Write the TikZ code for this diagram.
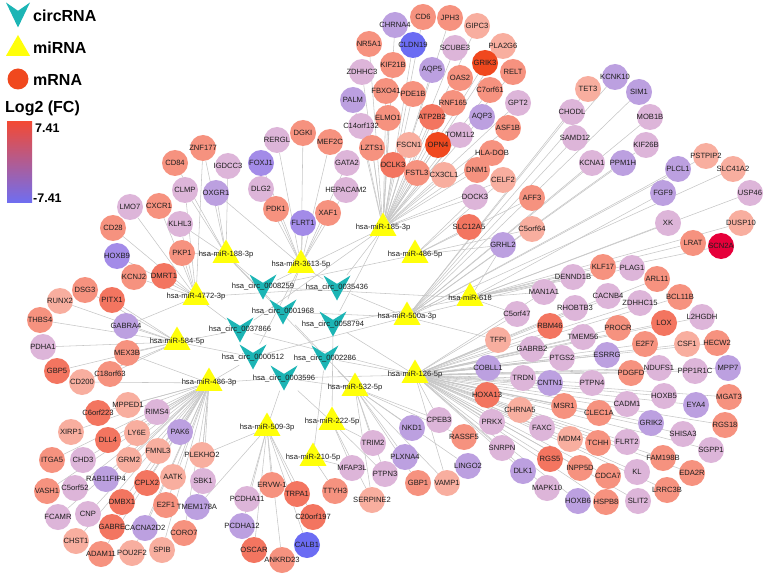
\documentclass[tikz,border=0pt]{standalone}
\usepackage{fontspec}
\setmainfont{Liberation Sans}
\usetikzlibrary{shapes.geometric,calc,backgrounds}
\definecolor{miryellow}{HTML}{FFFF0A}
\definecolor{circteal}{HTML}{1CB5B5}
\definecolor{edgegray}{HTML}{C6C6C6}
\definecolor{txtdark}{HTML}{1E1E1E}
\definecolor{top}{HTML}{E6003A}
\definecolor{hi}{HTML}{F0481E}
\definecolor{up2}{HTML}{F37560}
\definecolor{up1}{HTML}{F6927F}
\definecolor{up0}{HTML}{F8AE9F}
\definecolor{dn0}{HTML}{DDB5D9}
\definecolor{dn1}{HTML}{BCA0E0}
\definecolor{dn2}{HTML}{A38BE8}
\definecolor{dn3}{HTML}{6B6CF3}
\definecolor{gradtop}{HTML}{F24A35}
\definecolor{gradmid}{HTML}{E8C8DA}
\definecolor{gradbot}{HTML}{6E6EF2}
\newcommand{\genefont}{\fontsize{7.6}{9}\selectfont}
\tikzset{
  gene/.style={circle, minimum size=26pt, inner sep=0pt, font=\genefont, text=txtdark},
  mirna/.style={regular polygon, regular polygon sides=3, minimum size=31pt, inner sep=0pt, fill=miryellow, font=\genefont, text=txtdark},
  circ/.style={minimum width=27pt, minimum height=25pt, inner sep=0pt, font=\genefont, text=txtdark,
    path picture={\fill[circteal] (path picture bounding box.north west)
      -- ($(path picture bounding box.north)!0.333!(path picture bounding box.south)$)
      -- (path picture bounding box.north east) -- (path picture bounding box.south) -- cycle;}},
  edge/.style={draw=edgegray, line width=0.55pt},
  legtext/.style={font=\bfseries\fontsize{16}{18}\selectfont, anchor=west, inner sep=0pt},
  numtext/.style={font=\bfseries\fontsize{12.5}{14}\selectfont, anchor=west, inner sep=0pt}
}

\begin{document}
\begin{tikzpicture}[x=1pt,y=-1pt]
  \useasboundingbox (0,0) rectangle (770,577);

  % legend
  \node[circ, minimum width=24pt, minimum height=25pt] (lgcirc) at (18,15) {};
  \node[legtext] (lgcirctxt) at (33,16) {circRNA};
  \node[mirna, minimum size=28pt] (lgmir) at (18,49) {};
  \node[legtext] (lgmirtxt) at (33,48) {miRNA};
  \node[gene, fill=hi, minimum size=21pt] (lgmrna) at (18,79) {};
  \node[legtext] (lgmrnatxt) at (33,80) {mRNA};
  \node[legtext] (lgfc) at (5,108) {Log2 (FC)};
  \node[minimum width=25pt, minimum height=81pt, inner sep=0pt, top color=gradtop, middle color=gradmid, bottom color=gradbot] (lgbar) at (19.5,162.5) {};
  \node[numtext] (lgmax) at (35,128) {7.41};
  \node[numtext] (lgmin) at (33,198) {-7.41};

  % miRNAs
  \node[mirna] (m188) at (226,255) {\makebox[0pt]{hsa-miR-188-3p}};
  \node[mirna] (m3613) at (301,265) {\makebox[0pt]{hsa-miR-3613-5p}};
  \node[mirna] (m185) at (383,228) {\makebox[0pt]{hsa-miR-185-3p}};
  \node[mirna] (m4866) at (415,255) {\makebox[0pt]{hsa-miR-486-5p}};
  \node[mirna] (m618) at (470,298) {\makebox[0pt]{hsa-miR-618}};
  \node[mirna] (m500) at (407,317) {\makebox[0pt]{hsa-miR-500a-3p}};
  \node[mirna] (m126) at (415,375) {\makebox[0pt]{hsa-miR-126-5p}};
  \node[mirna] (m4772) at (196,297) {\makebox[0pt]{hsa-miR-4772-3p}};
  \node[mirna] (m584) at (177,342) {\makebox[0pt]{hsa-miR-584-5p}};
  \node[mirna] (m4863) at (209,383) {\makebox[0pt]{hsa-miR-486-3p}};
  \node[mirna] (m532) at (355,388) {\makebox[0pt]{hsa-miR-532-5p}};
  \node[mirna] (m222) at (332,422) {\makebox[0pt]{hsa-miR-222-5p}};
  \node[mirna] (m509) at (267,428) {\makebox[0pt]{hsa-miR-509-3p}};
  \node[mirna] (m210) at (313,458) {\makebox[0pt]{hsa-miR-210-5p}};

  % circRNAs
  \foreach \n/\x/\y in {0008259/263/287, 0035436/337/288, 0001968/283/312, 0058794/333/324,
                        0037866/240/330, 0000512/253/357, 0002286/325/358, 0003596/284/378} {
    \node[circ] (c\n) at (\x,\y) {\makebox[0pt]{hsa\_circ\_\n}};
  }

  % mRNAs, one loop per miRNA
  \foreach \n/\x/\y/\c in {CHRNA4/395/25/dn1, CD6/423/17/up1, JPH3/450/18/up1, GIPC3/477/26/up0,
    CLDN19/413/45/dn3, SCUBE3/455/48/dn0, PLA2G6/503/46/up0, GRIK3/485/63/hi, KIF21B/393/65/up1,
    AQP5/432/70/dn1, RELT/513/72/up1, OAS2/460/78/up1, NR5A1/369/44/up1, ZDHHC3/362/72/dn0,
    FBXO41/386/91/up1, PDE1B/413/94/up1, C7orf61/490/90/up1, RNF165/453/103/up1, GPT2/518/103/dn0,
    PALM/353/100/dn1, ELMO1/388/118/up1, ATP2B2/432/117/up2, AQP3/482/117/dn1, ASF1B/508/128/up1,
    C14orf132/361/126/dn0, TOM1L2/460/135/dn0, LZTS1/372/148/up1, FSCN1/409/145/up0, OPN4/438/145/hi,
    HLA-DOB/492/153/up1, DCLK3/393/165/up2, FSTL3/417/173/up1, CX3CL1/444/175/up0, DNM1/477/170/up1,
    CELF2/503/180/up0, DOCK3/475/197/dn0} {
    \node[gene, fill=\c] (\n) at (\x,\y) {\makebox[0pt]{\n}};
    \begin{scope}[on background layer]\draw[edge] (m185) -- (\n);\end{scope}
  }
  \foreach \n/\x/\y/\c in {RERGL/277/140/dn0, DGKI/303/133/up1, MEF2C/330/142/up1, FOXJ1/261/163/dn2,
    DLG2/261/189/dn0, GATA2/347/163/dn0, HEPACAM2/346/190/dn0, PDK1/276/209/up1, FLRT1/303/223/dn2,
    XAF1/328/213/up1} {
    \node[gene, fill=\c] (\n) at (\x,\y) {\makebox[0pt]{\n}};
    \begin{scope}[on background layer]\draw[edge] (m3613) -- (\n);\end{scope}
  }
  \foreach \n/\x/\y/\c in {ZNF177/203/148/up1, CD84/175/163/up1, IGDCC3/228/166/dn0, CLMP/185/190/dn0,
    OXGR1/216/193/dn1} {
    \node[gene, fill=\c] (\n) at (\x,\y) {\makebox[0pt]{\n}};
    \begin{scope}[on background layer]\draw[edge] (m188) -- (\n);\end{scope}
  }
  \foreach \n/\x/\y/\c in {LMO7/130/207/dn0, CXCR1/159/206/up1, CD28/113/228/up1, KLHL3/180/224/dn0,
    HOXB9/117/256/dn2, PKP1/182/253/up1, KCNJ2/134/277/up1, DMRT1/164/276/up2} {
    \node[gene, fill=\c] (\n) at (\x,\y) {\makebox[0pt]{\n}};
    \begin{scope}[on background layer]\draw[edge] (m4772) -- (\n);\end{scope}
  }
  \foreach \n/\x/\y/\c in {DSG3/85/290/up1, RUNX2/60/301/up0, PITX1/112/300/up2, THBS4/40/320/up1,
    GABRA4/126/326/dn1, PDHA1/43/347/dn0, MEX3B/127/353/up1, GBP5/57/371/up2, C18orf63/110/374/up1,
    CD200/82/382/up0} {
    \node[gene, fill=\c] (\n) at (\x,\y) {\makebox[0pt]{\n}};
    \begin{scope}[on background layer]\draw[edge] (m584) -- (\n);\end{scope}
  }
  \foreach \n/\x/\y/\c in {MPPED1/128/405/up0, C6orf223/98/413/up2, RIMS4/157/412/dn0, XIRP1/71/432/up0,
    DLL4/108/440/up2, LY6E/137/433/up0, PAK6/180/432/dn1, ITGA5/52/460/up1, CHD3/83/460/dn0,
    GRM2/129/460/up0, FMNL3/158/451/up0, PLEKHO2/202/455/up0, RAB11FIP4/106/479/dn1, AATK/173/477/up0,
    SBK1/203/481/dn0, VASH1/47/491/up1, C5orf52/75/488/dn0, CPLX2/147/483/up2, DMBX1/122/502/up2,
    E2F1/166/505/up1, TMEM178A/197/507/dn1, FCAMR/58/517/dn0, CNP/88/514/dn0, GABRE/112/527/up2,
    CACNA2D2/145/528/dn1, CORO7/184/533/up1, CHST1/76/541/up0, SPIB/162/550/up0, ADAM11/101/554/up1,
    POU2F2/132/553/up0} {
    \node[gene, fill=\c] (\n) at (\x,\y) {\makebox[0pt]{\n}};
    \begin{scope}[on background layer]\draw[edge] (m4863) -- (\n);\end{scope}
  }
  \foreach \n/\x/\y/\c in {ERVW-1/272/485/up1, TRPA1/297/494/up2, PCDHA11/247/499/dn0, PCDHA12/242/526/dn1,
    OSCAR/254/550/up2, ANKRD23/282/560/up1, C20orf197/313/517/up2, CALB1/307/545/dn3} {
    \node[gene, fill=\c] (\n) at (\x,\y) {\makebox[0pt]{\n}};
    \begin{scope}[on background layer]\draw[edge] (m509) -- (\n);\end{scope}
  }
  \foreach \n/\x/\y/\c in {TTYH3/335/491/up1} {
    \node[gene, fill=\c] (\n) at (\x,\y) {\makebox[0pt]{\n}};
    \begin{scope}[on background layer]\draw[edge] (m210) -- (\n);\end{scope}
  }
  \foreach \n/\x/\y/\c in {TRIM2/373/443/dn0, MFAP3L/352/468/dn0, PTPN3/385/474/dn0, SERPINE2/372/500/up0} {
    \node[gene, fill=\c] (\n) at (\x,\y) {\makebox[0pt]{\n}};
    \begin{scope}[on background layer]\draw[edge] (m222) -- (\n);\end{scope}
  }
  \foreach \n/\x/\y/\c in {CPEB3/439/420/dn0, NKD1/412/428/dn1, RASSF5/464/437/up1, PLXNA4/405/457/dn1,
    LINGO2/468/466/dn1, GBP1/418/483/up1, VAMP1/447/483/up0} {
    \node[gene, fill=\c] (\n) at (\x,\y) {\makebox[0pt]{\n}};
    \begin{scope}[on background layer]\draw[edge] (m532) -- (\n);\end{scope}
  }
  \foreach \n/\x/\y/\c in {TFPI/498/340/up0, COBLL1/488/368/dn1, TRDN/523/378/dn0, CNTN1/550/383/dn1,
    GABRB2/532/349/dn0, PTGS2/562/358/dn0, HOXA13/487/395/up2, CHRNA5/520/410/up0, MSR1/564/406/up1,
    PRKX/492/422/dn0, FAXC/542/428/dn0, MDM4/570/439/up0, SNRPN/502/448/dn0, RGS5/550/459/up2,
    INPP5D/580/468/up1, DLK1/523/471/dn1, MAPK10/547/488/dn0, HOXB6/578/501/dn1, PTPN4/592/383/dn0,
    CADM1/627/404/dn0, CLEC1A/599/413/up1, TCHH/598/443/up1, FLRT2/627/442/dn0, CDCA7/608/476/up1,
    HSPB8/606/502/up1, SLIT2/638/501/dn0, KL/637/472/dn0, GRIK2/651/423/dn1, HOXB5/664/396/dn0,
    EYA4/696/405/dn1, MGAT3/729/397/up1, RGS18/725/425/up1, SHISA3/683/434/dn0, SGPP1/711/450/dn0,
    FAM198B/663/458/up1, EDA2R/692/473/up1, LRRC3B/667/490/up1, ESRRG/607/355/dn1, PDGFD/631/373/up1,
    NDUFS1/659/368/dn0, PPP1R1C/695/371/dn0, MPP7/728/368/dn1, E2F7/645/344/up1, CSF1/687/344/up0,
    HECW2/717/343/up1, TMEM56/583/337/dn0, PROCR/618/328/up1, LOX/664/323/up2, L2HGDH/702/317/dn0,
    RHOBTB3/575/308/dn0, CACNB4/608/296/dn0, ZDHHC15/640/303/dn0, BCL11B/680/297/up1, ARL11/657/279/up1,
    C5orf47/517/314/dn0, RBM46/550/326/up2} {
    \node[gene, fill=\c] (\n) at (\x,\y) {\makebox[0pt]{\n}};
    \begin{scope}[on background layer]\draw[edge] (m126) -- (\n);\end{scope}
  }
  \foreach \n/\x/\y/\c in {DENND1B/573/277/dn0, KLF17/603/267/up1, PLAG1/632/268/dn0, MAN1A1/544/292/dn0,
    XK/668/223/dn0, DUSP10/741/223/up0, LRAT/693/243/up1, SCN2A/721/246/top, FGF9/663/193/dn1,
    USP46/750/193/dn0} {
    \node[gene, fill=\c] (\n) at (\x,\y) {\makebox[0pt]{\n}};
    \begin{scope}[on background layer]\draw[edge] (m618) -- (\n);\end{scope}
  }
  \foreach \n/\x/\y/\c in {TET3/588/89/up0, KCNK10/615/77/dn1, SIM1/639/92/dn1, CHODL/572/112/dn0,
    SAMD12/575/138/dn0, MOB1B/650/117/dn0, KIF26B/646/145/dn0, KCNA1/592/163/dn0, PPM1H/623/163/dn1,
    PLCL1/678/169/dn1, PSTPIP2/706/156/up0, SLC41A2/733/169/up0} {
    \node[gene, fill=\c] (\n) at (\x,\y) {\makebox[0pt]{\n}};
    \begin{scope}[on background layer]\draw[edge] (m500) -- (\n);\end{scope}
  }
  \foreach \n/\x/\y/\c in {AFF3/532/198/up1, SLC12A5/469/227/up2, C5orf64/532/229/up0, GRHL2/503/245/dn1} {
    \node[gene, fill=\c] (\n) at (\x,\y) {\makebox[0pt]{\n}};
    \begin{scope}[on background layer]\draw[edge] (m4866) -- (\n);\end{scope}
  }

  \begin{scope}[on background layer]
    % circRNA -- miRNA
    \foreach \c/\m in {0008259/m188, 0008259/m185, 0008259/m4866, 0008259/m618,
                       0035436/m3613, 0035436/m4772, 0035436/m185, 0035436/m500,
                       0001968/m3613, 0001968/m188, 0001968/m500, 0001968/m532,
                       0058794/m185, 0058794/m618, 0058794/m126, 0058794/m222,
                       0037866/m4772, 0037866/m584, 0037866/m126, 0037866/m185,
                       0000512/m4863, 0000512/m584, 0000512/m3613, 0000512/m500,
                       0002286/m188, 0002286/m532, 0002286/m126, 0002286/m210,
                       0003596/m509, 0003596/m4863, 0003596/m532, 0003596/m126, 0003596/m222} {
      \draw[edge] (c\c) -- (\m);
    }
    % mRNAs shared by two miRNAs
    \foreach \n/\m in {ZNF177/m4772, CLMP/m4772, KLHL3/m188, PKP1/m188, OXGR1/m3613, DOCK3/m4866,
                       CELF2/m4866, TFPI/m500, C5orf47/m618, GRHL2/m618, MAN1A1/m126, DENND1B/m500,
                       GABRA4/m4772, MEX3B/m4863, CD200/m4863, PLEKHO2/m509, TMEM178A/m509,
                       CPEB3/m126, VAMP1/m126, SERPINE2/m532, TRIM2/m532, MFAP3L/m210, PTPN3/m532} {
      \draw[edge] (\n) -- (\m);
    }
  \end{scope}
\end{tikzpicture}
\end{document}
